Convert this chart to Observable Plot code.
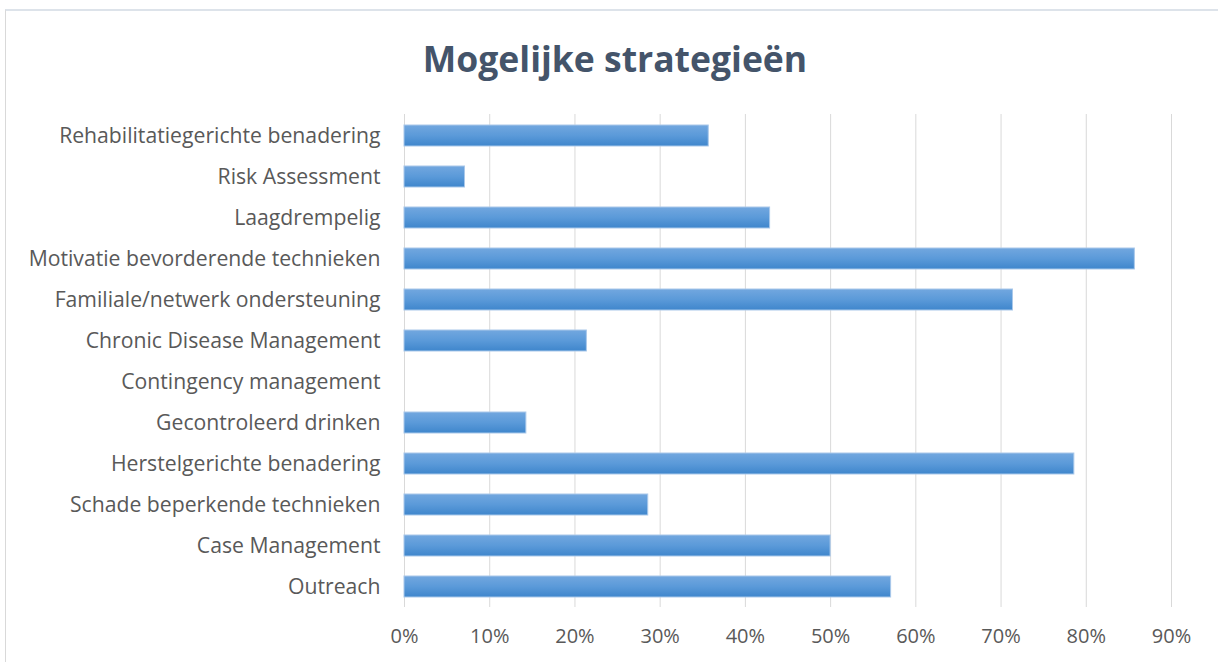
<!DOCTYPE html>
<html>
<head>
<meta charset="utf-8">
<script src="https://cdn.jsdelivr.net/npm/d3@7"></script>
<script src="https://cdn.jsdelivr.net/npm/@observablehq/plot@0.6"></script>
<style>
  html, body { margin: 0; padding: 0; background: #fff; overflow: hidden; }
  #frame { position: absolute; left: 5px; top: 9px; width: 1230px; height: 670px;
           border-left: 1px solid #d9d9d9; border-top: 2px solid #dde3ea; }
  #title { position: absolute; left: 0; top: 34px; width: 1230px; text-align: center;
           font-family: "Open Sans", sans-serif; font-weight: 700; font-size: 35.5px; color: #44546a; }
  #chart { position: absolute; left: 0; top: 0; }
</style>
</head>
<body>
<div id="frame"></div>
<div id="title">Mogelijke strategieën</div>
<div id="chart"></div>
<script>
const categories = [
  "Rehabilitatiegerichte benadering",
  "Risk Assessment",
  "Laagdrempelig",
  "Motivatie bevorderende technieken",
  "Familiale/netwerk ondersteuning",
  "Chronic Disease Management",
  "Contingency management",
  "Gecontroleerd drinken",
  "Herstelgerichte benadering",
  "Schade beperkende technieken",
  "Case Management",
  "Outreach"
];
const values = [0.357, 0.071, 0.429, 0.857, 0.714, 0.214, 0, 0.143, 0.786, 0.286, 0.5, 0.571];
const xTicks = [0, 0.1, 0.2, 0.3, 0.4, 0.5, 0.6, 0.7, 0.8, 0.9];

const data = categories.map((c, i) => ({category: c, value: values[i]}));

const chart = Plot.plot({
  width: 1218,
  height: 662,
  marginLeft: 404,
  marginRight: 47,
  marginTop: 114,
  marginBottom: 55,
  style: {fontFamily: "'Open Sans', sans-serif", fontSize: "20px", color: "#595959", background: "transparent"},
  x: {domain: [0, 0.9], ticks: xTicks, tickFormat: d => Math.round(d * 100) + "%", label: null},
  y: {domain: categories, paddingInner: 0.49, paddingOuter: 0.245, label: null},
  marks: [
    Plot.gridX(xTicks, {stroke: "#d9d9d9", strokeOpacity: 1, strokeWidth: 1}),
    Plot.barX(data, {x: "value", y: "category", fill: "url(#barGrad)", stroke: "#a9c8ea", strokeWidth: 1}),
    Plot.axisX(xTicks, {tickSize: 0, tickPadding: 21, tickFormat: d => Math.round(d * 100) + "%", fill: "#595959", fontSize: 20}),
    Plot.axisY({tickSize: 0, tickPadding: 24, fill: "#595959", fontSize: 21.2})
  ]
});

const svg = d3.select(chart);
const defs = svg.insert("defs", ":first-child");
const g = defs.append("linearGradient").attr("id", "barGrad").attr("x1", 0).attr("y1", 0).attr("x2", 0).attr("y2", 1);
g.append("stop").attr("offset", "0%").attr("stop-color", "#72a7df");
g.append("stop").attr("offset", "50%").attr("stop-color", "#5b9ad9");
g.append("stop").attr("offset", "100%").attr("stop-color", "#3f86cc");

document.getElementById("chart").appendChild(chart);
</script>
</body>
</html>
